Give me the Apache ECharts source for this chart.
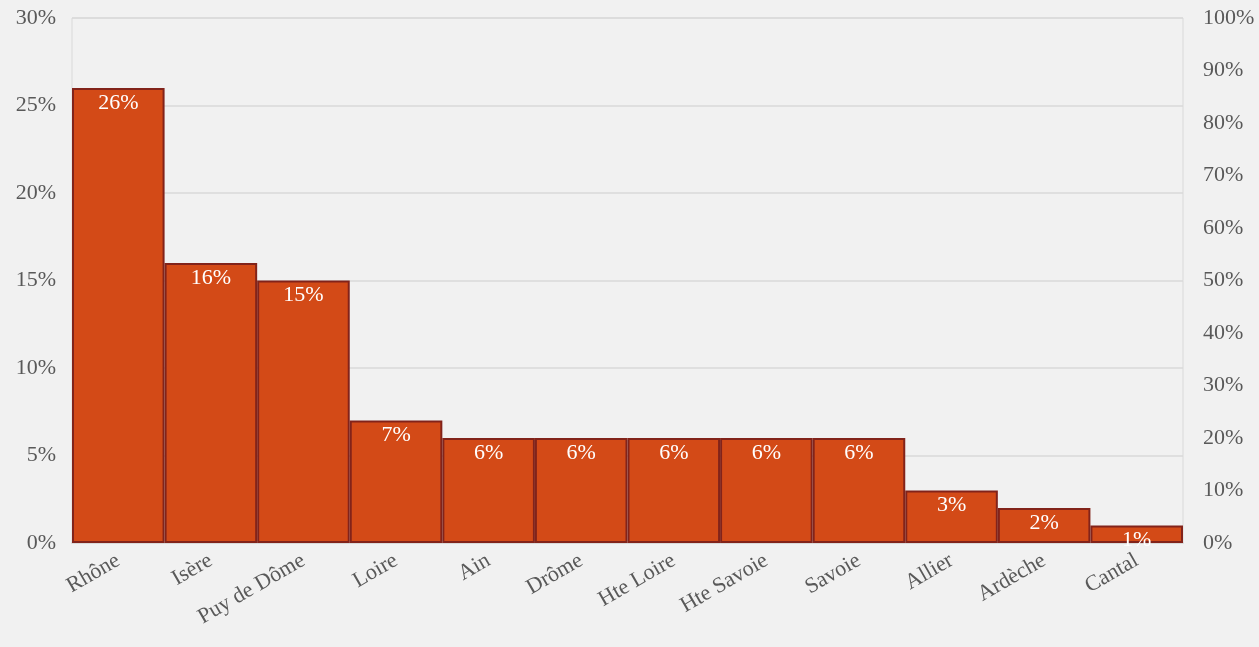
<!DOCTYPE html>
<html>
<head>
<meta charset="utf-8">
<script src="https://cdn.jsdelivr.net/npm/echarts@6/dist/echarts.min.js"></script>
<style>
  html, body { margin: 0; padding: 0; background: #f1f1f1; }
  #chart { width: 1259px; height: 647px; }
</style>
</head>
<body>
<div id="chart"></div>
<script>
const departements = ['Rhône', 'Isère', 'Puy de Dôme', 'Loire', 'Ain', 'Drôme', 'Hte Loire', 'Hte Savoie', 'Savoie', 'Allier', 'Ardèche', 'Cantal']
const parts = [26, 16, 15, 7, 6, 6, 6, 6, 6, 3, 2, 1]

const font = '"Liberation Serif", "DejaVu Serif", serif'
const grey = '#595959'

const chart = echarts.init(document.getElementById('chart'))
chart.setOption({
  backgroundColor: '#f1f1f1',
  animation: false,
  grid: { left: 72, right: 76, top: 18, bottom: 104, show: true, borderColor: '#d9d9d9', borderWidth: 1 },
  xAxis: {
    type: 'category',
    data: departements,
    axisTick: { show: false },
    axisLine: { lineStyle: { color: '#d9d9d9', width: 2 } },
    axisLabel: { rotate: 30, color: grey, fontFamily: font, fontSize: 22, margin: 16, interval: 0 },
  },
  yAxis: [
    {
      type: 'value', min: 0, max: 30, interval: 5,
      axisLabel: { formatter: '{value}%', color: grey, fontFamily: font, fontSize: 22, margin: 16, verticalAlign: 'middle', padding: [4, 0, 0, 0] },
      splitLine: { lineStyle: { color: '#d9d9d9', width: 1.5 } },
      axisLine: { show: false },
    },
    {
      type: 'value', min: 0, max: 100, interval: 10, position: 'right',
      axisLabel: { formatter: '{value}%', color: grey, fontFamily: font, fontSize: 22, margin: 20, padding: [4, 0, 0, 0] },
      splitLine: { show: false },
      axisLine: { show: false },
    },
  ],
  series: [{
    type: 'bar',
    data: parts,
    barCategoryGap: '0%',
    itemStyle: { color: '#d34a17', borderColor: '#82231a', borderWidth: 2 },
    label: {
      show: true, position: 'insideTop', formatter: '{c}%',
      color: '#ffffff', fontFamily: font, fontSize: 22, distance: 4,
    },
  }],
})
</script>
</body>
</html>
